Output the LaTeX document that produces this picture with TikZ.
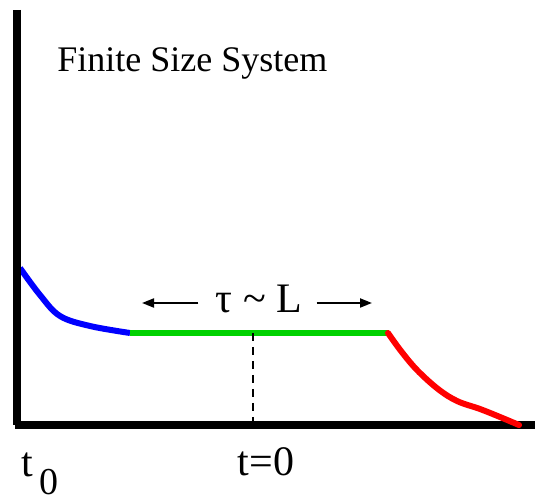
\documentclass[tikz,border=0pt]{standalone}
\usepackage{fontspec}
\setmainfont{Liberation Serif}
\usetikzlibrary{arrows.meta,positioning}
\definecolor{cblue}{RGB}{0,0,255}
\definecolor{cgreen}{RGB}{0,210,0}
\definecolor{cred}{RGB}{255,0,0}

\begin{document}
\begin{tikzpicture}[x=0.5pt,y=-0.5pt,
  axis/.style={line width=4pt,black},
  curve/.style={line width=3pt,line join=round},
  span/.style={line width=1pt,-{Triangle[length=6pt,width=4.5pt]}},
  lbl/.style={inner sep=0pt,font=\fontsize{21}{24}\selectfont}]
  \useasboundingbox (0,0) rectangle (535,501);

  % corner points
  \coordinate (Ytop) at (17,10);
  \coordinate (Org) at (17,425);
  \coordinate (Xend) at (535,425);
  \coordinate (Gstart) at (130,333);
  \coordinate (Gend) at (388,333);
  \coordinate (Zero) at (253,333);
  \coordinate (Zbase) at (253,421);

  \node[lbl,anchor=base west,font=\fontsize{18}{22}\selectfont] (Ttitle) at (57,72) {Finite Size System};

  % decay before and after the plateau
  \draw[curve,cblue] plot[smooth,tension=0.6] coordinates
    {(20,268) (40,295) (60,316) (90,326) (Gstart)};
  \draw[curve,cgreen,line width=3.4pt,line cap=butt] (Gstart) -- (Gend);
  \draw[dashed,line width=0.6pt,dash pattern=on 4pt off 3pt] (Zero) -- (Zbase);

  \draw[axis] (Ytop) -- (Org.center) ++(-2,0) -- (Xend);

  \draw[curve,cred,line cap=round] plot[smooth,tension=0.6] coordinates
    {(Gend) (401,351) (417,370) (438,389) (457,401) (480,409) (500,417) (519,425)};

  % plateau width
  \node[lbl,anchor=base] (Ttau) at (259,313) {τ \textasciitilde{} L};
  \coordinate (Al) at (142,303);
  \coordinate (Ar) at (372,303);
  \draw[span] (Ttau.west |- Al) ++(-17,0) -- (Al);
  \draw[span] (Ttau.east |- Ar) ++(14,0) -- (Ar);

  \node[lbl,anchor=base] (Tzero) at (266,476) {t=0};
  \node[lbl,anchor=base west] (Tnot) at (21,477) {t\hspace{3pt}\smash{\raisebox{-9pt}{\fontsize{19}{22}\selectfont 0}}};
\end{tikzpicture}
\end{document}
